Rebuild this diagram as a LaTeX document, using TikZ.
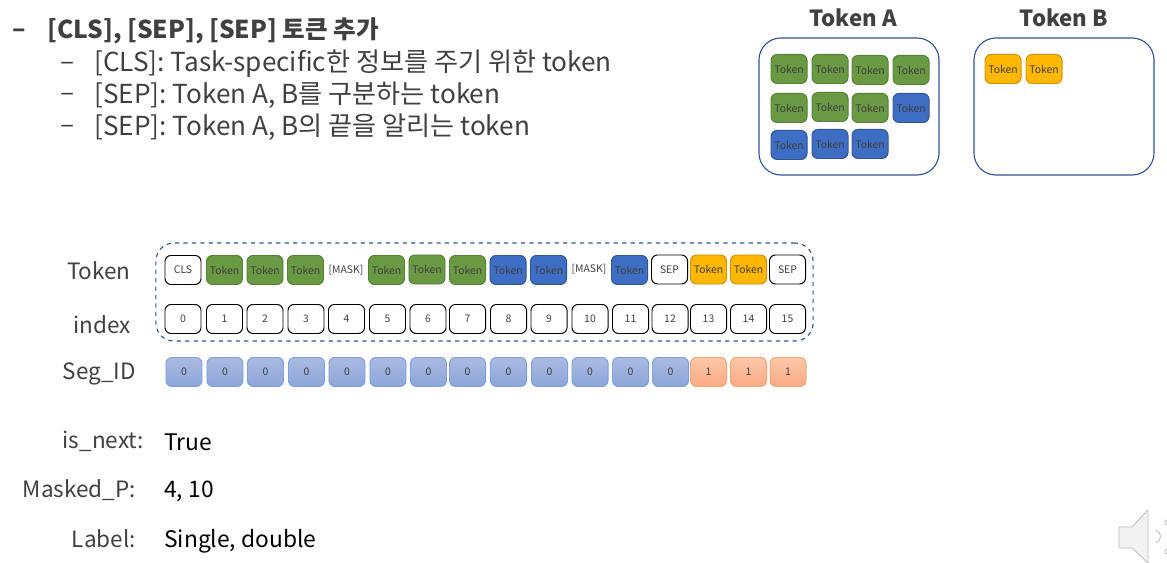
\documentclass[tikz,border=0pt]{standalone}
\usepackage{fontspec}
\setmainfont{Noto Sans CJK KR}
\usepackage{xcolor}
\usetikzlibrary{positioning, arrows.meta, calc}
\definecolor{textgray}{HTML}{404040}
\definecolor{framecolor}{HTML}{2F5597}
\begin{document}
\begin{tikzpicture}[
        x=0.025cm, y=-0.025cm,
        % Style for the small token cells
        tokencell/.style={
            draw,
            rounded corners=0.15cm,
            minimum width=0.9cm,
            minimum height=0.725cm,
            inner sep=0pt,
            line width=0.7pt,
            text=textgray,
            font=\fontsize{7.4}{9}\selectfont
        },
        greencell/.style={tokencell, fill={rgb,255:red,106;green,153;blue,68}, draw={rgb,255:red,84;green,130;blue,53}},
        bluecell/.style={tokencell, fill={rgb,255:red,62;green,110;blue,195}, draw={rgb,255:red,47;green,85;blue,151}},
        yellowcell/.style={tokencell, fill={rgb,255:red,255;green,183;blue,0}, draw={rgb,255:red,205;green,145;blue,20}},
        plaincell/.style={tokencell, draw=black, fill=white},
        maskcell/.style={tokencell, draw=none},
        segcell/.style={tokencell, top color={rgb,255:red,170;green,187;blue,225}, bottom color={rgb,255:red,140;green,165;blue,218}, draw={rgb,255:red,125;green,160;blue,222}},
        onecell/.style={tokencell, top color={rgb,255:red,250;green,200;blue,170}, bottom color={rgb,255:red,250;green,170;blue,130}, draw={rgb,255:red,244;green,165;blue,115}},
        % Style for the two outer boxes
        groupbox/.style={
            draw=framecolor,
            fill=white,
            rounded corners=0.55cm,
            minimum width=4.5cm,
            minimum height=3.425cm,
            line width=0.8pt
        },
        % Style for the text
        bodytext/.style={anchor=west, text=textgray, inner sep=0pt, font=\fontsize{18.6}{24}\selectfont},
        headtext/.style={anchor=west, text=textgray, inner sep=0pt, font=\fontsize{17.5}{24}\selectfont\bfseries},
        sidelabel/.style={anchor=east, text=textgray, inner sep=0pt, font=\fontsize{16}{22}\selectfont},
        valuetext/.style={anchor=west, text=black, inner sep=0pt, font=\fontsize{16.2}{22}\selectfont},
        titletext/.style={text=textgray, inner sep=0pt, font=\fontsize{15.8}{22}\selectfont\bfseries}
    ]
    \useasboundingbox (0,0) rectangle (1167,563);

    % ==========================================
    % TEXT AT THE TOP
    % ==========================================
    \node[headtext] (dash0) at (12, 33) {–};
    \node[headtext] (head) at (47, 31) {[CLS], [SEP], [SEP] 토큰 추가};
    \node[bodytext] (dash1) at (60, 66) {–};
    \node[bodytext] (line1) at (94, 64) {[CLS]: Task-specific한 정보를 주기 위한 token};
    \node[bodytext] (dash2) at (60, 97) {–};
    \node[bodytext] (line2) at (94, 95) {[SEP]: Token A, B를 구분하는 token};
    \node[bodytext] (dash3) at (60, 129) {–};
    \node[bodytext] (line3) at (94, 127) {[SEP]: Token A, B의 끝을 알리는 token};

    % ==========================================
    % TOKEN A AND TOKEN B
    % ==========================================
    \node[titletext] (titleA) at (853, 18) {Token A};
    \node[titletext] (titleB) at (1064, 18) {Token B};
    \node[groupbox] (boxA) at (849, 106.5) {};
    \node[groupbox] (boxB) at (1064, 106.5) {};

    \node[greencell] (a1) at (789, 69) {Token};
    \node[greencell] (a2) at (830, 69) {Token};
    \node[greencell] (a3) at (870, 70) {Token};
    \node[greencell] (a4) at (911, 70) {Token};
    \node[greencell] (a5) at (789, 108) {Token};
    \node[greencell] (a6) at (830, 107) {Token};
    \node[greencell] (a7) at (870, 108) {Token};
    \node[bluecell] (a8) at (911, 108) {Token};
    \node[bluecell] (a9) at (789, 145) {Token};
    \node[bluecell] (a10) at (830, 144) {Token};
    \node[bluecell] (a11) at (870, 144) {Token};

    \node[yellowcell] (b1) at (1003, 69) {Token};
    \node[yellowcell] (b2) at (1044, 69) {Token};

    % ==========================================
    % TOKEN, INDEX AND SEGMENT ROWS
    % ==========================================
    \node[draw=framecolor, dashed, rounded corners=0.45cm, line width=0.8pt, minimum width=16.425cm, minimum height=2.45cm] (dashbox) at (484.5, 292) {};

    % Labels on the left
    \node[sidelabel] (tokenlabel) at (131, 271) {Token};
    \node[sidelabel] (indexlabel) at (131, 325) {index};
    \node[sidelabel] (seglabel) at (136, 374) {Seg\_ID};

    % Token row
    \node[plaincell] (t0) at (183, 270) {CLS};
    \node[greencell] (t1) at (224.5, 270) {Token};
    \node[greencell] (t2) at (265, 270) {Token};
    \node[greencell] (t3) at (305.5, 270) {Token};
    \node[maskcell] (t4) at (346, 270) {[MASK]};
    \node[greencell] (t5) at (386.5, 270) {Token};
    \node[greencell] (t6) at (427, 269.5) {Token};
    \node[greencell] (t7) at (467.5, 270) {Token};
    \node[bluecell] (t8) at (508, 270) {Token};
    \node[bluecell] (t9) at (548.5, 270) {Token};
    \node[maskcell] (t10) at (589, 269) {[MASK]};
    \node[bluecell] (t11) at (629.5, 270) {Token};
    \node[plaincell] (t12) at (669.5, 269.5) {SEP};
    \node[yellowcell] (t13) at (708.5, 269.5) {Token};
    \node[yellowcell] (t14) at (748.5, 269.5) {Token};
    \node[plaincell] (t15) at (787.5, 269.5) {SEP};

    % Index row
    \node[plaincell] (i0) at (183, 319) {0};
    \node[plaincell] (i1) at (224.5, 319) {1};
    \node[plaincell] (i2) at (265, 319) {2};
    \node[plaincell] (i3) at (306, 319) {3};
    \node[plaincell] (i4) at (346.5, 319) {4};
    \node[plaincell] (i5) at (387.5, 319) {5};
    \node[plaincell] (i6) at (428, 319) {6};
    \node[plaincell] (i7) at (467.5, 319) {7};
    \node[plaincell] (i8) at (508.5, 319) {8};
    \node[plaincell] (i9) at (549, 319) {9};
    \node[plaincell] (i10) at (590, 319) {10};
    \node[plaincell] (i11) at (630.5, 319) {11};
    \node[plaincell] (i12) at (670, 319) {12};
    \node[plaincell] (i13) at (708.5, 319) {13};
    \node[plaincell] (i14) at (748.5, 319) {14};
    \node[plaincell] (i15) at (787.5, 319) {15};

    % Segment row
    \node[segcell] (s0) at (184, 372) {0};
    \node[segcell] (s1) at (225, 372) {0};
    \node[segcell] (s2) at (265.5, 372) {0};
    \node[segcell] (s3) at (306.5, 372) {0};
    \node[segcell] (s4) at (347, 372) {0};
    \node[segcell] (s5) at (388, 372) {0};
    \node[segcell] (s6) at (428.5, 372) {0};
    \node[segcell] (s7) at (467.5, 372) {0};
    \node[segcell] (s8) at (508.5, 372) {0};
    \node[segcell] (s9) at (549.5, 372) {0};
    \node[segcell] (s10) at (590, 372) {0};
    \node[segcell] (s11) at (630.5, 372) {0};
    \node[segcell] (s12) at (670.5, 372) {0};
    \node[onecell] (s13) at (708.5, 372) {1};
    \node[onecell] (s14) at (748.5, 372) {1};
    \node[onecell] (s15) at (788, 372) {1};

    % ==========================================
    % TEXT AT THE BOTTOM
    % ==========================================
    \node[sidelabel] (nextlabel) at (144, 441) {is\_next:};
    \node[valuetext] (nextvalue) at (164, 442) {True};
    \node[sidelabel] (maskedlabel) at (136, 490) {Masked\_P:};
    \node[valuetext] (maskedvalue) at (164, 491) {4, 10};
    \node[sidelabel] (labellabel) at (136, 539) {Label:};
    \node[valuetext] (labelvalue) at (164, 541) {Single, double};

    % ==========================================
    % SPEAKER
    % ==========================================
    \draw[fill=black!5, draw=black!25, line width=0.6pt] (1119, 527) -- (1132, 527) -- (1148, 510) -- (1148, 563) -- (1132, 548) -- (1119, 548) -- cycle;
    \draw[draw=black!25, line width=0.6pt] (1156, 530) .. controls (1162, 532) and (1162, 541) .. (1156, 543);
    \draw[draw=black!25, line width=0.6pt] (1167, 520) .. controls (1164, 521) and (1164, 524) .. (1167, 525);
    \draw[draw=black!25, line width=0.6pt] (1167, 549) .. controls (1164, 550) and (1164, 553) .. (1167, 554);
\end{tikzpicture}
\end{document}
